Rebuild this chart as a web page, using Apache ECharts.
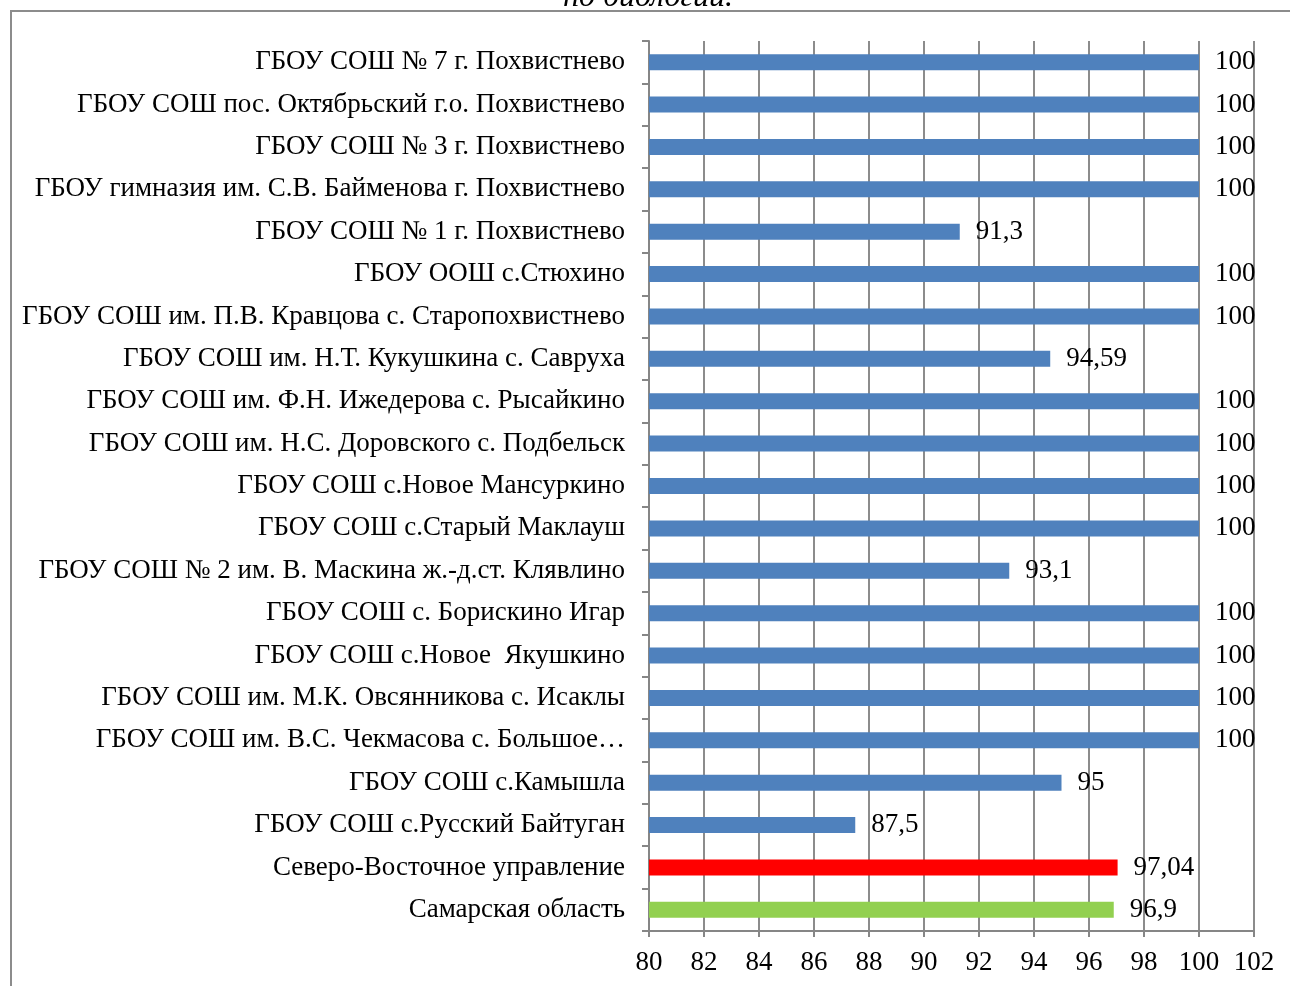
<!DOCTYPE html>
<html>
<head>
<meta charset="utf-8">
<script src="https://cdn.jsdelivr.net/npm/echarts@6/dist/echarts.min.js"></script>
<style>
html,body{margin:0;padding:0;background:#fff;}
#chart{width:1290px;height:986px;}
</style>
</head>
<body>
<div id="chart"></div>
<script>
const categories = [
  "ГБОУ СОШ № 7 г. Похвистнево",
  "ГБОУ СОШ пос. Октябрьский г.о. Похвистнево",
  "ГБОУ СОШ № 3 г. Похвистнево",
  "ГБОУ гимназия им. С.В. Байменова г. Похвистнево",
  "ГБОУ СОШ № 1 г. Похвистнево",
  "ГБОУ ООШ с.Стюхино",
  "ГБОУ СОШ им. П.В. Кравцова с. Старопохвистнево",
  "ГБОУ СОШ им. Н.Т. Кукушкина с. Савруха",
  "ГБОУ СОШ им. Ф.Н. Ижедерова с. Рысайкино",
  "ГБОУ СОШ им. Н.С. Доровского с. Подбельск",
  "ГБОУ СОШ с.Новое Мансуркино",
  "ГБОУ СОШ с.Старый Маклауш",
  "ГБОУ СОШ № 2 им. В. Маскина ж.-д.ст. Клявлино",
  "ГБОУ СОШ с. Борискино Игар",
  "ГБОУ СОШ с.Новое  Якушкино",
  "ГБОУ СОШ им. М.К. Овсянникова с. Исаклы",
  "ГБОУ СОШ им. В.С. Чекмасова с. Большое…",
  "ГБОУ СОШ с.Камышла",
  "ГБОУ СОШ с.Русский Байтуган",
  "Северо-Восточное управление",
  "Самарская область"
];
const values = [100, 100, 100, 100, 91.3, 100, 100, 94.59, 100, 100, 100, 100, 93.1, 100, 100, 100, 100, 95, 87.5, 97.04, 96.9];
const xTicks = [80, 82, 84, 86, 88, 90, 92, 94, 96, 98, 100, 102];
const titleText = "по биологии.";

const FONT = "'Liberation Serif', 'Times New Roman', serif";
function barColor(i) {
  if (i === categories.length - 2) return '#FF0000';
  if (i === categories.length - 1) return '#92D050';
  return '#4F81BD';
}

const chart = echarts.init(document.getElementById('chart'));
chart.setOption({
  animation: false,
  backgroundColor: '#fff',
  grid: { left: 649, right: 36, top: 41, bottom: 55, containLabel: false },
  xAxis: {
    type: 'value',
    min: xTicks[0], max: xTicks[xTicks.length - 1], interval: 2,
    axisLine: { show: true, lineStyle: { color: '#868686', width: 2 } },
    axisTick: { show: true, length: 6, lineStyle: { color: '#868686', width: 2 } },
    splitLine: { show: true, lineStyle: { color: '#8c8c8c', width: 2 } },
    axisLabel: { color: '#000', fontFamily: FONT, fontSize: 27, margin: 18 }
  },
  yAxis: {
    type: 'category',
    inverse: true,
    data: categories,
    axisLine: { show: true, lineStyle: { color: '#868686', width: 2 } },
    axisTick: { show: true, length: 7, alignWithLabel: false, lineStyle: { color: '#868686', width: 2 } },
    axisLabel: { color: '#000', fontFamily: FONT, fontSize: 27, margin: 24 }
  },
  series: [{
    type: 'bar',
    barWidth: 16,
    data: values.map((v, i) => ({ value: v, itemStyle: { color: barColor(i) } })),
    label: {
      show: true, position: 'right', distance: 16,
      color: '#000', fontFamily: FONT, fontSize: 27,
      formatter: p => String(p.value).replace('.', ',')
    }
  }],
  graphic: [
    { type: 'rect', shape: { x: 11, y: 11, width: 1300, height: 1000 },
      style: { fill: 'none', stroke: '#8c8c8c', lineWidth: 2 }, silent: true },
    { type: 'text', x: 648, y: -18,
      style: { text: titleText, fill: '#000', font: "italic 32px " + FONT, align: 'center', verticalAlign: 'top' } }
  ]
});
</script>
</body>
</html>
